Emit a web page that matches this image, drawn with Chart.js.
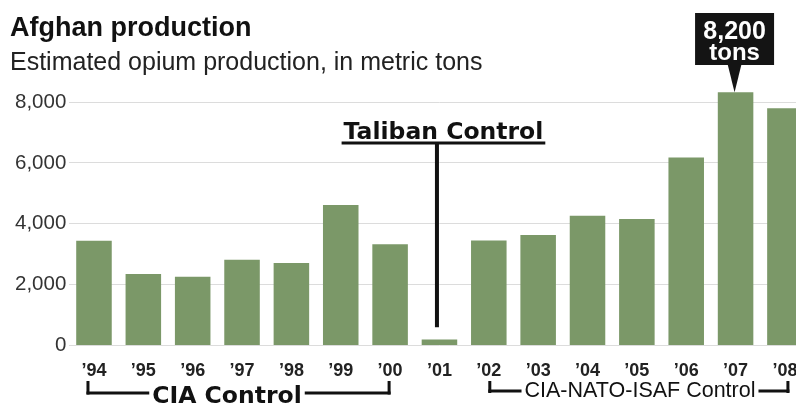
<!DOCTYPE html>
<html>
<head>
<meta charset="utf-8">
<script src="https://cdn.jsdelivr.net/npm/chart.js@4/dist/chart.umd.min.js"></script>
<style>
  html, body { margin: 0; padding: 0; background: #fff; overflow: hidden; }
  #wrap { width: 812px; height: 405px; }
</style>
</head>
<body>
<div id="wrap"><canvas id="c" width="812" height="405"></canvas></div>
<script>
// ---- data ----
const years = ["\u201994", "\u201995", "\u201996", "\u201997", "\u201998", "\u201999", "\u201900",
               "\u201901", "\u201902", "\u201903", "\u201904", "\u201905", "\u201906", "\u201907", "\u201908"];
const production = [3440, 2350, 2260, 2820, 2710, 4620, 3330, 200, 3450, 3630, 4260, 4160, 6180, 8320, 7800];
const yTicks = [0, 2000, 4000, 6000, 8000];
const titleText = "Afghan production";
const subtitleText = "Estimated opium production, in metric tons";
const calloutLines = ["8,200", "tons"];
const calloutIndex = 13;
const talibanLabel = "Taliban Control";
const talibanIndex = 7;
const ciaLabel = "CIA Control";
const ciaRange = [0, 6];
const natoLabel = "CIA-NATO-ISAF Control";
const natoRange = [8, 14];

const annotations = {
  id: 'annotations',
  afterDraw(chart) {
    const ctx = chart.ctx;
    const xs = chart.scales.x, ys = chart.scales.y;
    ctx.save();
    ctx.fillStyle = '#111';

    // Taliban Control label + pointer line
    const xt = xs.getPixelForValue(talibanIndex) - 2.5;
    ctx.font = 'bold 23.5px "DejaVu Sans"';
    ctx.textAlign = 'center';
    ctx.textBaseline = 'alphabetic';
    const tw = ctx.measureText(talibanLabel).width;
    const tcx = xt + 6.5;
    ctx.fillText(talibanLabel, tcx, 138.5);
    ctx.fillRect(tcx - tw / 2 - 2, 141.5, tw + 4, 3);
    ctx.fillRect(xt - 2, 143, 4, ys.getPixelForValue(600) - 143);

    // CIA Control bracket
    const cl = xs.getPixelForValue(ciaRange[0]) - 6;
    const cr = xs.getPixelForValue(ciaRange[1]) - 1;
    ctx.font = 'bold 23.5px "DejaVu Sans"';
    const cw = ctx.measureText(ciaLabel).width;
    const ccx = 227;
    ctx.fillText(ciaLabel, ccx, 403);
    ctx.fillRect(cl - 1.5, 381, 3, 13.5);
    ctx.fillRect(cl - 1.5, 391.5, (ccx - cw / 2 - 3) - (cl - 1.5), 3);
    ctx.fillRect(ccx + cw / 2 + 3, 391.5, (cr + 1.5) - (ccx + cw / 2 + 3), 3);
    ctx.fillRect(cr - 1.5, 381, 3, 13.5);

    // CIA-NATO-ISAF Control bracket
    const nl = xs.getPixelForValue(natoRange[0]) + 1;
    const nr = xs.getPixelForValue(natoRange[1]) + 3;
    ctx.font = '21.5px "Liberation Sans", Arial, sans-serif';
    const nw = ctx.measureText(natoLabel).width;
    const ncx = 640;
    ctx.fillText(natoLabel, ncx, 396.5);
    ctx.fillRect(nl - 1.5, 381, 3, 12);
    ctx.fillRect(nl - 1.5, 389.5, (ncx - nw / 2 - 3) - (nl - 1.5), 3);
    ctx.fillRect(ncx + nw / 2 + 3, 389.5, (nr + 1.5) - (ncx + nw / 2 + 3), 3);
    ctx.fillRect(nr - 1.5, 381, 3, 12);

    // Callout box over the 2007 bar
    const bx = xs.getPixelForValue(calloutIndex) - 1;
    const tipY = ys.getPixelForValue(production[calloutIndex]);
    ctx.fillStyle = '#141414';
    ctx.fillRect(bx - 39.5, 13, 79, 52);
    ctx.beginPath();
    ctx.moveTo(bx - 7, 64);
    ctx.lineTo(bx + 7, 64);
    ctx.lineTo(bx, tipY);
    ctx.closePath();
    ctx.fill();
    ctx.fillStyle = '#fff';
    ctx.font = 'bold 25px "Liberation Sans", Arial, sans-serif';
    ctx.textAlign = 'center';
    ctx.fillText(calloutLines[0], bx, 38.5);
    ctx.font = 'bold 24px "Liberation Sans", Arial, sans-serif';
    ctx.fillText(calloutLines[1], bx, 60);
    ctx.restore();
  }
};

new Chart(document.getElementById('c'), {
  type: 'bar',
  data: {
    labels: years,
    datasets: [{
      data: production,
      backgroundColor: '#7b9868',
      borderWidth: 0,
      barPercentage: 0.72,
      categoryPercentage: 1.0
    }]
  },
  options: {
    responsive: false,
    animation: false,
    devicePixelRatio: 1,
    layout: { padding: { left: 10, right: 2.4, top: 0, bottom: 0 } },
    plugins: {
      legend: { display: false },
      tooltip: { enabled: false },
      title: {
        display: true,
        text: titleText,
        align: 'start',
        color: '#111',
        font: { family: '"Liberation Sans", Arial, sans-serif', size: 27, weight: 'bold' },
        padding: { top: 12, bottom: 0 }
      },
      subtitle: {
        display: true,
        text: subtitleText,
        align: 'start',
        color: '#222',
        font: { family: '"Liberation Sans", Arial, sans-serif', size: 25, weight: 'normal' },
        padding: { top: 3.3, bottom: 0 }
      }
    },
    scales: {
      x: {
        grid: { display: false },
        border: { display: false },
        ticks: {
          color: '#222',
          font: { family: '"Liberation Sans", Arial, sans-serif', size: 18, weight: 'bold' },
          padding: 7,
          maxRotation: 0,
          autoSkip: false
        },
        afterFit(scale) { scale.height = 59.5; }
      },
      y: {
        min: 0,
        max: 8800,
        grid: { color: '#dcdcdc', lineWidth: 1, drawTicks: false },
        border: { display: false },
        ticks: {
          stepSize: 2000,
          color: '#333',
          padding: 3,
          font: { family: '"Liberation Sans", Arial, sans-serif', size: 20.5 },
          callback: (v) => v.toLocaleString('en-US')
        },
        afterBuildTicks(scale) {
          scale.ticks = yTicks.map(v => ({ value: v }));
        },
        afterFit(scale) { scale.width = 59.3; }
      }
    }
  },
  plugins: [annotations]
});
</script>
</body>
</html>
